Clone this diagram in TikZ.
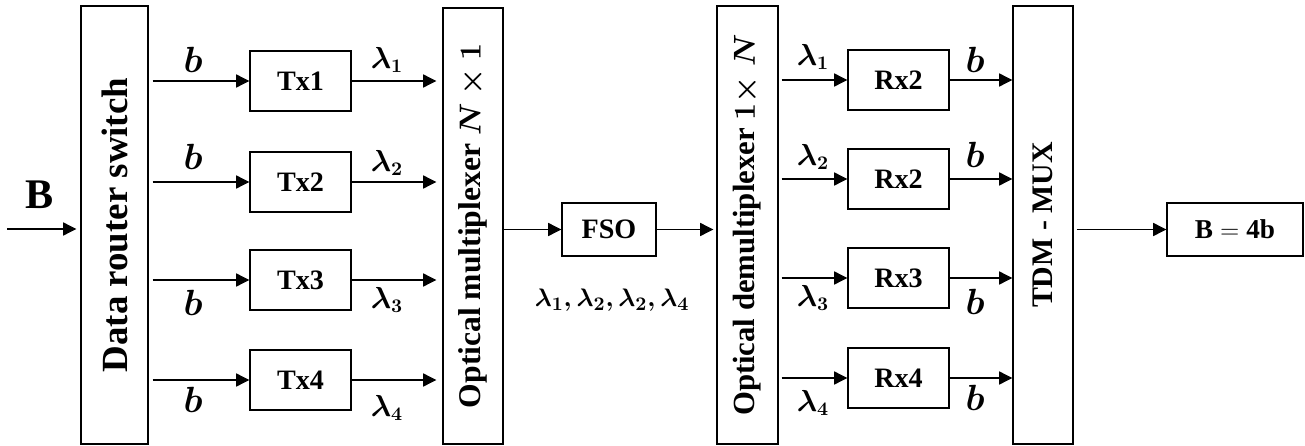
\documentclass[tikz,border=0pt]{standalone}
\usepackage{fontspec}
\setmainfont{Liberation Serif}
\usetikzlibrary{arrows.meta, positioning}
\tikzset{
    sig/.style={-{Triangle[length=7.5pt, width=7.5pt]}, line width=0.6pt},
    block/.style={draw, line width=0.8pt, minimum width=2.02cm, minimum height=1.2cm,
        font=\fontsize{16}{18}\selectfont\bfseries},
    tall/.style={draw, line width=0.8pt, minimum width=1.2cm, minimum height=8.76cm, inner sep=0pt},
    vtext/.style={rotate=90, font=\fontsize{18}{22}\selectfont\bfseries\boldmath},
    bit/.style={font=\fontsize{22}{24}\selectfont\boldmath, inner sep=0pt},
    wl/.style={font=\fontsize{16}{18}\selectfont\boldmath, inner sep=0pt}
}

\begin{document}
\begin{tikzpicture}[x=0.02cm, y=-0.02cm]
    \useasboundingbox (0,0) rectangle (1305,446);
    % transmitter side
    \node[tall, minimum width=1.34cm, label={[vtext, font=\fontsize{21}{24}\selectfont\bfseries]center:Data router switch}] (sw) at (114.5,225) {};
    \node[tall, minimum height=8.72cm, label={[vtext]center:Optical multiplexer $N\times 1$}] (mux) at (473,226) {};
    \coordinate (src) at (7,229);
    \draw[sig, shorten >=0.08cm] (src) -- (sw.west |- src);
    \node[font=\fontsize{24}{26}\selectfont\bfseries] (bigB) at (40,195) {B};
    \foreach \i/\y/\by/\ly in {1/81/60/60, 2/182/157/163, 3/280/303/300, 4/380/400/408}{
        \node[block] (tx\i) at (300.5,\y) {Tx\i};
        \draw[sig, shorten <=0.08cm] (sw.east |- tx\i) -- (tx\i);
        \draw[sig, shorten >=0.12cm] (tx\i) -- (mux.west |- tx\i);
        \node[bit] (bt\i) at (193,\by) {$b$};
        \node[wl] (lt\i) at (387,\ly) {$\lambda_\i$};
    }
    % free space link
    \node[block, minimum width=1.88cm, minimum height=1.06cm] (fso) at (609,229.5) {FSO};
    \draw[sig] (mux.east |- fso) -- (fso);
    \node[wl, font=\fontsize{15}{17}\selectfont\boldmath] (lall) at (612,300)
        {$\lambda_1{,}\,\lambda_2{,}\,\lambda_2{,}\,\lambda_4$};
    \node[tall, minimum width=1.22cm, label={[vtext, font=\fontsize{17.5}{20}\selectfont\bfseries\boldmath]center:Optical demultiplexer $1{\times}\;N$}] (demux) at (747.5,225) {};
    \draw[sig, shorten >=0.06cm] (fso) -- (demux.west |- fso);
    % receiver side
    \node[tall, label={[vtext, font=\fontsize{17}{20}\selectfont\bfseries]center:TDM - MUX}] (tdm) at (1043,225) {};
    \foreach \i/\n/\y/\ly/\by in {1/2/80/57/60, 2/2/179/157/155, 3/3/278/298/302, 4/4/378/403/398}{
        \node[block] (rx\i) at (898.5,\y) {Rx\n};
        \draw[sig, shorten <=0.06cm] (demux.east |- rx\i) -- (rx\i);
        \draw[sig] (rx\i) -- (tdm.west |- rx\i);
        \node[wl] (lr\i) at (813,\ly) {$\lambda_\i$};
        \node[bit] (br\i) at (975,\by) {$b$};
    }
    \node[block, minimum width=2.72cm, minimum height=1.06cm, font=\fontsize{15.5}{18}\selectfont]
        (out) at (1235,229.5) {$\mathbf{B = 4b}$};
    \draw[sig, shorten <=0.06cm] (tdm.east |- out) -- (out);
\end{tikzpicture}
\end{document}
